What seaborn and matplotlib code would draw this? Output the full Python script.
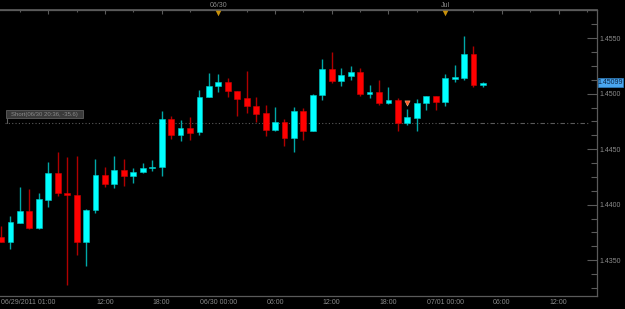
import numpy as np
import pandas as pd
import matplotlib
matplotlib.use("Agg")
import matplotlib.pyplot as plt
import matplotlib.patches as mpatches
import matplotlib.transforms as mtransforms
from matplotlib.ticker import FixedLocator
import seaborn as sns

# ---------------- data (hourly EUR/USD candles) ----------------
start_time = "2011-06-29 01:00"
open_ = [1.43706, 1.43667, 1.43838, 1.43943, 1.43790, 1.44042, 1.44283, 1.44108, 1.44087, 1.43667,
         1.43952, 1.44265, 1.44189, 1.44313, 1.44261, 1.44295, 1.44331, 1.44337, 1.44772, 1.44628,
         1.44691, 1.44652, 1.44968, 1.45069, 1.45108, 1.45024, 1.44961, 1.44889, 1.44823, 1.44676,
         1.44745, 1.44598, 1.44847, 1.44667, 1.44988, 1.45223, 1.45114, 1.45162, 1.45198, 1.44997,
         1.45015, 1.44914, 1.44943, 1.44733, 1.44784, 1.44919, 1.44979, 1.44928, 1.45135, 1.45144,
         1.45358, 1.45076]
high = [1.43808, 1.43901, 1.44162, 1.44139, 1.44103, 1.44387, 1.44472, 1.44432, 1.44439, 1.43959,
        1.44409, 1.44337, 1.44439, 1.44409, 1.44328, 1.44373, 1.44403, 1.44841, 1.44802, 1.44763,
        1.44787, 1.45033, 1.45186, 1.45177, 1.45139, 1.45024, 1.45207, 1.44973, 1.44898, 1.44883,
        1.44775, 1.44877, 1.44871, 1.44997, 1.45310, 1.45376, 1.45234, 1.45250, 1.45229, 1.45078,
        1.45123, 1.45058, 1.44959, 1.44859, 1.44950, 1.44979, 1.44979, 1.45177, 1.45259, 1.45520,
        1.45430, 1.45103]
low = [1.43660, 1.43604, 1.43832, 1.43778, 1.43784, 1.43977, 1.44078, 1.43277, 1.43544, 1.43450,
       1.43923, 1.44162, 1.44153, 1.44171, 1.44198, 1.44283, 1.44304, 1.44261, 1.44589, 1.44577,
       1.44583, 1.44628, 1.44968, 1.45013, 1.44968, 1.44799, 1.44829, 1.44745, 1.44622, 1.44661,
       1.44532, 1.44472, 1.44583, 1.44667, 1.44943, 1.45094, 1.45072, 1.45123, 1.44979, 1.44964,
       1.44898, 1.44907, 1.44667, 1.44718, 1.44667, 1.44853, 1.44853, 1.44892, 1.45108, 1.45123,
       1.45063, 1.45063]
close = [1.43667, 1.43844, 1.43941, 1.43790, 1.44049, 1.44283, 1.44108, 1.44087, 1.43667, 1.43952,
         1.44265, 1.44189, 1.44313, 1.44261, 1.44295, 1.44331, 1.44342, 1.44772, 1.44628, 1.44691,
         1.44649, 1.44968, 1.45069, 1.45108, 1.45027, 1.44955, 1.44889, 1.44820, 1.44676, 1.44745,
         1.44601, 1.44847, 1.44668, 1.44988, 1.45223, 1.45114, 1.45168, 1.45198, 1.44997, 1.45018,
         1.44914, 1.44943, 1.44739, 1.44787, 1.44919, 1.44979, 1.44928, 1.45144, 1.45148, 1.45358,
         1.45076, 1.45099]

x_tick_hours = [0, 11, 17, 23, 29, 35, 41, 47, 53, 59]
x_tick_labels = ["06/29/2011 01:00", "12:00", "18:00", "06/30 00:00", "06:00",
                 "12:00", "18:00", "07/01 00:00", "06:00", "12:00"]
top_marker_hours = [23, 47]
top_marker_labels = ["06/30", "Jul"]
y_ticks = [1.4350, 1.4400, 1.4450, 1.4500, 1.4550]
short_level = 1.44733
short_label = "Short(06/30 20:36, -35.6)"
trade_marker_hour = [43]
trade_marker_price = [1.44912]
last_price = 1.45099

# ---------------- styling ----------------
sns.set_theme(style="dark", rc={
    "axes.facecolor": "black", "figure.facecolor": "black",
    "axes.edgecolor": "#5a5a5a", "axes.grid": False,
    "xtick.color": "#5a5a5a", "ytick.color": "#5a5a5a",
    "xtick.labelcolor": "#8c8c8c", "ytick.labelcolor": "#8c8c8c",
})
plt.rcParams["font.family"] = ["Liberation Sans", "DejaVu Sans"]

BULL = "#00ffff"
BULL_WICK = "#00a8a8"
BEAR = "#ff0000"
BEAR_WICK = "#b00000"

df = pd.DataFrame({"time": pd.date_range(start_time, periods=len(open_), freq="h"),
                   "open": open_, "high": high, "low": low, "close": close})
df["h"] = (df["time"] - df["time"].iloc[0]) / pd.Timedelta(hours=1)
df["up"] = df["close"] >= df["open"]

W, H = 625, 309
fig = plt.figure(figsize=(W / 100, H / 100), dpi=100)
ax = fig.add_axes([0, 13 / H, 597 / W, 286 / H])

# wicks
ax.vlines(df["h"], df["low"], df["high"],
          colors=np.where(df["up"], BULL_WICK, BEAR_WICK), lw=1.0, zorder=2)
# bodies
body_bottom = np.minimum(df["open"], df["close"])
body_height = np.maximum(np.abs(df["close"] - df["open"]), 0.00004)
ax.bar(df["h"], body_height, bottom=body_bottom, width=0.62,
       color=np.where(df["up"], BULL, BEAR),
       edgecolor=np.where(df["up"], "#00c8c8", "#d00000"), lw=0.4, zorder=3)

# short position level line
ax.plot([0.42, 46.5], [short_level, short_level], color="#5a5a5a", lw=0.8,
        ls=(0, (1, 2)), zorder=1)
ax.plot([46.5, 62.1], [short_level, short_level], color="#5a5a5a", lw=0.8,
        ls=(0, (4, 2, 1, 2)), zorder=1)

# trade marker
sns.scatterplot(x=trade_marker_hour, y=trade_marker_price, marker="v", s=14,
                color="#ff5a2a", edgecolor="#ffb080", linewidth=0.4, ax=ax, zorder=5,
                legend=False)

# axes limits
ax.set_xlim(-0.106, 63.07)
ax.set_ylim(1.43177, 1.45754)

# spines
for s in ["top", "right", "bottom"]:
    ax.spines[s].set_visible(True)
    ax.spines[s].set_color("#5a5a5a")
    ax.spines[s].set_linewidth(0.9)
ax.spines["left"].set_visible(False)

# y axis on right
ax.yaxis.tick_right()
ax.set_yticks(y_ticks)
ax.set_yticklabels([f"{v:.4f}" for v in y_ticks])
ax.yaxis.set_minor_locator(FixedLocator(np.arange(1.4325, 1.4576, 0.00125)))
ax.tick_params(axis="y", which="major", direction="in", length=7, width=0.8,
               labelsize=5, pad=2, left=False, right=True)
ax.tick_params(axis="y", which="minor", direction="in", length=4, width=0.8,
               left=False, right=True)

# x axis bottom
ax.set_xticks(x_tick_hours)
ax.set_xticklabels(x_tick_labels)
ax.xaxis.set_minor_locator(FixedLocator(np.arange(0, 64, 1)))
ax.tick_params(axis="x", which="major", direction="in", length=5, width=0.8,
               labelsize=5, pad=2.5)
ax.tick_params(axis="x", which="minor", direction="in", length=2, width=0.8)
ax.get_xticklabels()[0].set_ha("left")
ax.set_xlabel("")
ax.set_ylabel("")

# top axis
sec = ax.secondary_xaxis("top")
sec_major = [5, 11, 17, 23, 29, 35, 41, 47, 53, 59]
sec.set_xticks(sec_major)
sec.set_xticklabels([top_marker_labels[top_marker_hours.index(v)] if v in top_marker_hours else ""
                     for v in sec_major])
sec.xaxis.set_minor_locator(FixedLocator(np.arange(2, 64, 3)))
sec.tick_params(axis="x", which="major", direction="in", length=3, width=0.8,
                labelsize=5, pad=1, colors="#5a5a5a", labelcolor="#8c8c8c")
sec.tick_params(axis="x", which="minor", direction="in", length=1.5, width=0.8,
                colors="#5a5a5a")
sec.spines["top"].set_color("#5a5a5a")

# orange triangle markers under the top axis
trans = mtransforms.blended_transform_factory(ax.transData, ax.transAxes)
ax.scatter(top_marker_hours, [0.988] * len(top_marker_hours), marker="v", s=16,
           color="#c8900a", transform=trans, clip_on=False, zorder=6, linewidths=0)

# short label box
px = lambda x: x / W
py = lambda y: 1 - y / H
fig.patches.append(mpatches.Rectangle((px(6), py(118)), px(83) - px(6), py(110) - py(118),
                                      transform=fig.transFigure, facecolor="#3a3a3a",
                                      edgecolor="#5e5e5e", lw=0.6, zorder=5))
fig.text(px(44.5), py(114), short_label, ha="center", va="center", fontsize=4.3,
         color="#8a8a8a", zorder=6)
fig.lines.append(plt.Line2D([px(6.5), px(6.5)], [py(118), py(123)], transform=fig.transFigure,
                            color="#5e5e5e", lw=0.8))

# last price box
yl = ax.transData.transform((0, last_price))[1] / fig.dpi / (H / 100)
fig.patches.append(mpatches.Rectangle((px(597.5), yl - 4.5 / H), px(623) - px(597.5), 9 / H,
                                      transform=fig.transFigure, facecolor="#4aa6ee",
                                      edgecolor="#2f7fc0", lw=0.5, zorder=5))
fig.text(px(610), yl, f"{last_price:.5f}", ha="center", va="center", fontsize=5,
         color="#0b2545", zorder=6)

fig.savefig("out.png", dpi=100, facecolor="black")
